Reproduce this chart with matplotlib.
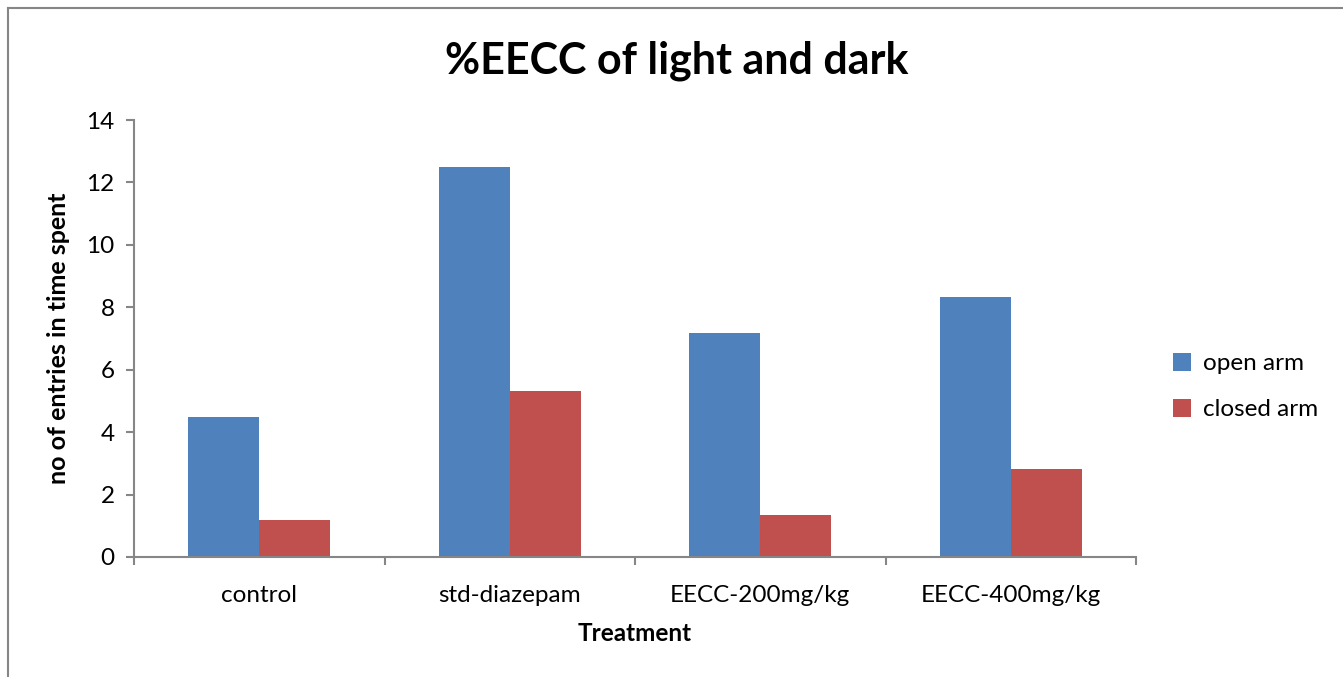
import numpy as np
import matplotlib.pyplot as plt
from matplotlib.lines import Line2D

plt.rcParams['font.family'] = ['Lato', 'DejaVu Sans']

treatments = ["control", "std-diazepam", "EECC-200mg/kg", "EECC-400mg/kg"]
open_arm = [4.5, 12.5, 7.17, 8.33]
closed_arm = [1.17, 5.33, 1.33, 2.83]

fig = plt.figure(figsize=(13.43, 6.77), dpi=100)
ax = fig.add_axes([0.0998, 0.1773, 0.7461, 0.6454])

x = np.arange(len(treatments))
w = 0.283
ax.bar(x - w / 2, open_arm, w, color="#4F81BD", label="open arm")
ax.bar(x + w / 2, closed_arm, w, color="#C0504D", label="closed arm")

ax.set_xlim(-0.5, len(treatments) - 0.5)
ax.set_ylim(0, 14)
ax.set_yticks(range(0, 15, 2))
ax.set_xticks(x)
ax.set_xticklabels(treatments, fontsize=17.5)
ax.set_xticks(np.arange(-0.5, len(treatments)), minor=True)
ax.tick_params(axis="x", which="major", length=0, pad=20)
ax.tick_params(axis="x", which="minor", length=6, color="#868686", width=1.5)
ax.tick_params(axis="y", length=6, color="#868686", width=1.5, labelsize=17.5, pad=8)

for s in ["top", "right"]:
    ax.spines[s].set_visible(False)
for s in ["left", "bottom"]:
    ax.spines[s].set_color("#868686")
    ax.spines[s].set_linewidth(1.5)

ax.set_xlabel("Treatment", fontsize=17.5, fontweight="bold", labelpad=12)
ax.set_ylabel("no of entries in time spent", fontsize=18, fontweight="bold", labelpad=12)
fig.suptitle("%EECC of light and dark", fontsize=31, fontweight="bold", x=0.504, y=0.94)

ax.legend(loc="center left", bbox_to_anchor=(1.015, 0.39), frameon=False, fontsize=17.5,
          handlelength=0.75, handleheight=0.75, handletextpad=0.5, labelspacing=1.0)

fig.add_artist(Line2D([0.006, 0.006], [0, 0.988], transform=fig.transFigure, color="#868686", lw=1.5))
fig.add_artist(Line2D([0.006, 1], [0.988, 0.988], transform=fig.transFigure, color="#868686", lw=1.5))

fig.savefig("out.png", dpi=100)
